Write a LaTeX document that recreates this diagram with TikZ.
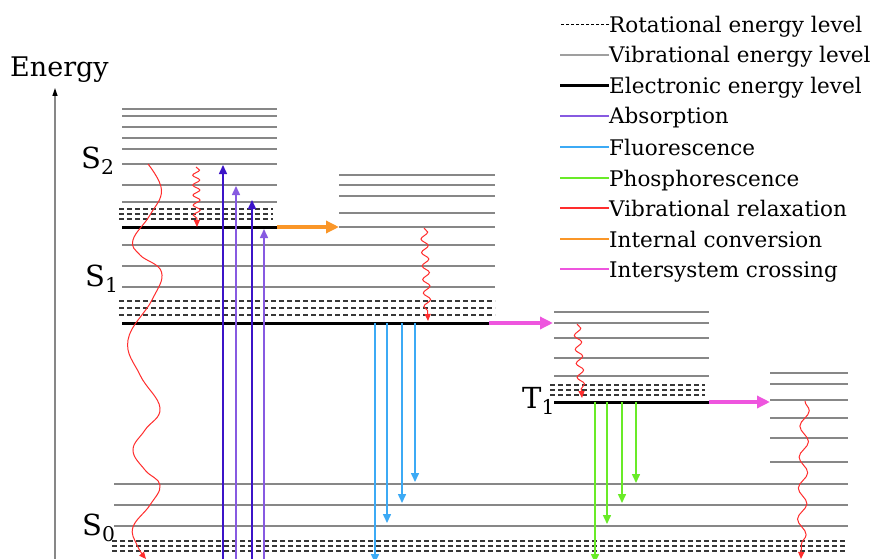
\documentclass[tikz,border=0pt]{standalone}
\usepackage{fontspec}
\setmainfont{DejaVu Serif}
\usetikzlibrary{arrows.meta, decorations.pathmorphing, positioning}
\definecolor{vibgray}{RGB}{135,135,135}
\definecolor{rotgray}{RGB}{55,55,55}
\definecolor{absdark}{RGB}{60,20,200}
\definecolor{abslight}{RGB}{135,90,225}
\definecolor{fluorblue}{RGB}{60,170,245}
\definecolor{phosgreen}{RGB}{105,235,40}
\definecolor{relaxred}{RGB}{255,45,45}
\definecolor{icorange}{RGB}{250,150,40}
\definecolor{iscpink}{RGB}{238,85,222}

\begin{document}
\begin{tikzpicture}[
  x=1pt, y=-1pt,
  vib/.style={draw=vibgray, line width=1.3pt},
  rot/.style={draw=rotgray, line width=1.3pt, dash pattern=on 5pt off 3pt},
  elec/.style={draw=black, line width=3pt},
  radarr/.style={line width=1.5pt, -{Triangle[length=9pt,width=8pt]}},
  relax/.style={draw=relaxred, line width=1pt, -{Triangle[length=7pt,width=6pt]},
    decorate, decoration={snake, amplitude=3.5pt, segment length=11pt, post length=6pt}},
  convarr/.style={line width=3.5pt, -{Triangle[length=13pt,width=12pt]}},
  statelbl/.style={font=\fontsize{29}{32}\selectfont, inner sep=0pt, anchor=base west},
  legtext/.style={font=\fontsize{21.5}{24}\selectfont, inner sep=0pt, anchor=base west},
  legrot/.style={draw=black, line width=1pt, dash pattern=on 3pt off 2pt},
  legvib/.style={draw=vibgray!80, line width=1.5pt},
  legelec/.style={draw=black, line width=3pt},
  legabs/.style={draw=abslight, line width=1.5pt},
  legflu/.style={draw=fluorblue, line width=1.5pt},
  legpho/.style={draw=phosgreen, line width=1.5pt},
  legrel/.style={draw=relaxred, line width=1.5pt},
  legic/.style={draw=icorange, line width=1.5pt},
  legisc/.style={draw=iscpink, line width=1.5pt}
]
\useasboundingbox[fill=white] (0,0) rectangle (870,559);

% energy axis
\node[font=\fontsize{27}{30}\selectfont, inner sep=0pt, anchor=base west] (energy) at (10,77) {Energy};
\coordinate (axisfoot) at (55,565);
\coordinate (axistop) at (55,88);
\draw[draw=vibgray, line width=1.2pt, -{Triangle[length=8pt,width=5pt,black]}] (axisfoot) -- (axistop);

% S2 levels
\foreach \y in {109,116,127,138,149,164,185,202}
  \draw[vib] (122,\y) -- (277,\y);
\foreach \y in {209,214,219}
  \draw[rot] (119,\y) -- (273,\y);
\draw[elec] (122,227) -- (277,227);
% upper part of S1
\foreach \y in {175,185,196,213,227}
  \draw[vib] (339,\y) -- (495,\y);
\foreach \y in {245,266,287}
  \draw[vib] (122,\y) -- (495,\y);
\foreach \y in {301,308,315}
  \draw[rot] (119,\y) -- (495,\y);
\draw[elec] (122,323) -- (489,323);
% T1 levels
\foreach \y in {312,323,338,358,376}
  \draw[vib] (554,\y) -- (709,\y);
\foreach \y in {385,390,395}
  \draw[rot] (550,\y) -- (705,\y);
\draw[elec] (554,402) -- (709,402);
% upper part of S0
\foreach \y in {373,384,400,418,438,462}
  \draw[vib] (770,\y) -- (848,\y);
\foreach \y in {484,505,526}
  \draw[vib] (114,\y) -- (848,\y);
\foreach \y in {541,546,551}
  \draw[rot] (112,\y) -- (846,\y);

% state labels
\node[statelbl] (s2) at (81,168) {S\textsubscript{2}};
\node[statelbl] (s1) at (85,286) {S\textsubscript{1}};
\node[statelbl] (t1) at (522,408) {T\textsubscript{1}};
\node[statelbl] (s0) at (82,535) {S\textsubscript{0}};

% absorption
\foreach \x/\ytop/\col [count=\i] in {223/165/absdark, 236/186/abslight, 252/200/absdark, 264/229/abslight} {
  \coordinate (absfoot\i) at (\x,565);
  \coordinate (abshead\i) at (\x,\ytop);
  \draw[radarr, draw=\col, fill=\col] (absfoot\i) -- (abshead\i);
}
% fluorescence
\foreach \x/\ybot [count=\i] in {375/563, 387/523, 402/503, 415/482} {
  \coordinate (flustart\i) at (\x,323);
  \coordinate (fluend\i) at (\x,\ybot);
  \draw[radarr, draw=fluorblue] (flustart\i) -- (fluend\i);
}
% phosphorescence
\foreach \x/\ybot [count=\i] in {595/563, 607/524, 622/503, 636/483} {
  \coordinate (phostart\i) at (\x,402);
  \coordinate (phoend\i) at (\x,\ybot);
  \draw[radarr, draw=phosgreen] (phostart\i) -- (phoend\i);
}

% internal conversion and intersystem crossing
\coordinate (icstart) at (277,227);
\coordinate (icend) at (339,227);
\draw[convarr, draw=icorange] (icstart) -- (icend);
\coordinate (iscstart) at (489,323);
\coordinate (iscend) at (553,323);
\draw[convarr, draw=iscpink] (iscstart) -- (iscend);
\coordinate (iscbstart) at (709,402);
\coordinate (iscbend) at (770,402);
\draw[convarr, draw=iscpink] (iscbstart) -- (iscbend);

% vibrational relaxation
\coordinate (relaxa) at (196,167);
\coordinate (relaxb) at (197,227);
\draw[relax, decoration={segment length=10pt}] (relaxa) -- (relaxb);
\coordinate (relaxc) at (424,228);
\coordinate (relaxd) at (428,321);
\draw[relax, decoration={segment length=13.5pt}] (relaxc) -- (relaxd);
\coordinate (relaxe) at (577,324);
\coordinate (relaxf) at (582,398);
\draw[relax, decoration={segment length=14pt}] (relaxe) -- (relaxf);
\coordinate (relaxg) at (805,401);
\coordinate (relaxh) at (801,559);
\draw[relax, decoration={amplitude=4.5pt, segment length=31pt}] (relaxg) -- (relaxh);
% slow relaxation S2 -> S0
\draw[draw=relaxred, line width=1pt, -{Triangle[length=7pt,width=6pt]}]
  plot[smooth, tension=0.7] coordinates {(148,164) (161.5,190) (150,215) (133,240) (140,255) (161.5,272)
    (152,300) (128,340) (140,375) (160,408) (145,430) (133,450) (145,470) (160,485) (150,505) (133,527) (137,545) (146,559)};

% legend
\foreach \sty/\yb/\txt [count=\i] in {legrot/33/Rotational energy level, legvib/63/Vibrational energy level,
    legelec/94/Electronic energy level, legabs/124/Absorption, legflu/155/Fluorescence, legpho/186/Phosphorescence,
    legrel/216/Vibrational relaxation, legic/247/Internal conversion, legisc/277/Intersystem crossing} {
  \node[legtext] (leg\i) at (609,\yb) {\txt};
  \draw[\sty] ([yshift=8pt]leg\i.base west) -- ++(-49,0);
}
\end{tikzpicture}
\end{document}
